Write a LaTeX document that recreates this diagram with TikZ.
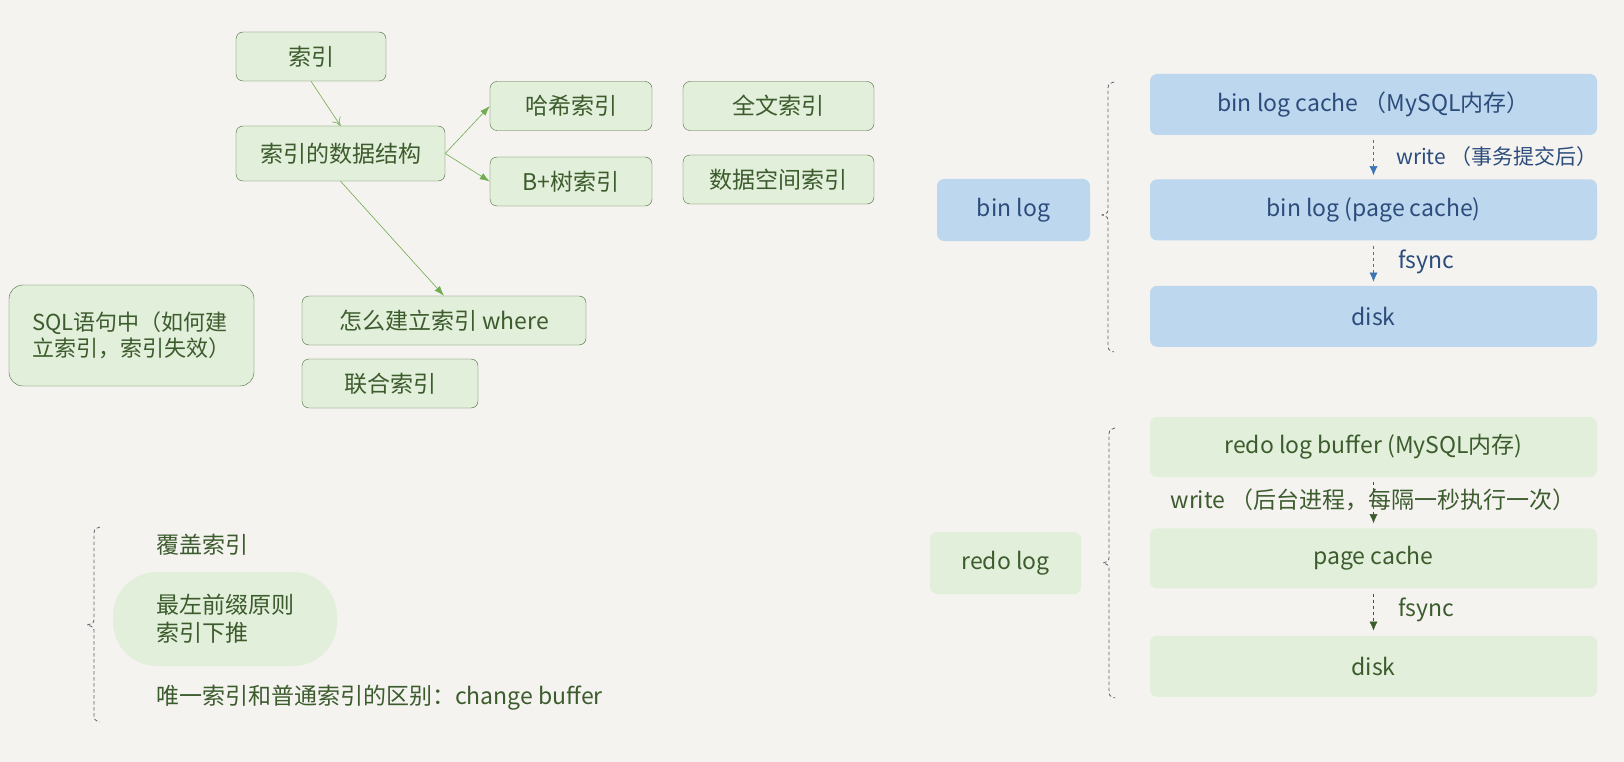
\documentclass[tikz,border=0pt]{standalone}
\usepackage{fontspec}
\setmainfont{Noto Sans CJK SC}
\usetikzlibrary{positioning,arrows.meta}
\definecolor{paper}{HTML}{F4F3EF}
\definecolor{gfill}{HTML}{E2EFDA}
\definecolor{gborder}{HTML}{4A6B3A}
\definecolor{gtext}{HTML}{3D5C2E}
\definecolor{gline}{HTML}{72AC50}
\definecolor{bfill}{HTML}{BDD7EE}
\definecolor{btext}{HTML}{2C4C7C}
\definecolor{bline}{HTML}{3A75B5}
\definecolor{bracecol}{HTML}{5E6470}
\newcommand\txtsize{\fontsize{23}{28}\selectfont}
\tikzset{block/.style={draw=gborder,fill=gfill,rounded corners=7pt,text=gtext,minimum height=49pt,inner sep=0pt},
         bluebox/.style={fill=bfill,rounded corners=7pt,text=btext,minimum width=447pt,minimum height=61pt},
         greenbox/.style={fill=gfill,rounded corners=7pt,text=gtext,minimum width=447pt,minimum height=61pt},
         label/.style={anchor=west,inner sep=0pt},
         line/.style={gline,semithick,-{Latex[length=10pt,width=7pt]}},
         brace/.style={bracecol,line width=0.8pt,dash pattern=on 3.5pt off 2.5pt}
}
\tikzstyle{barrow} = [bline,thin,dashed,-{Latex[length=9pt,width=8pt]}]
\tikzstyle{garrow} = [gtext,thin,dashed,-{Latex[length=9pt,width=8pt]}]

\begin{document}
\begin{tikzpicture}[x=1pt,y=-1pt,font=\txtsize]

\fill[paper] (0,0) rectangle (1624,762);
\useasboundingbox (0,0) rectangle (1624,762);

\node[block,minimum width=150pt] (idx) at (311,56.5) {索引};
\node[block,minimum width=209pt,minimum height=55pt] (struct) at (340.5,153.5) {索引的数据结构};
\node[block,minimum width=162pt] (hash) at (571,106) {哈希索引};
\node[block,minimum width=162pt] (btree) at (571,181.5) {B+树索引};
\node[block,minimum width=191pt] (fulltext) at (778.5,106) {全文索引};
\node[block,minimum width=191pt] (spatial) at (778.5,179.5) {数据空间索引};
\node[block,minimum width=245pt,minimum height=101pt,rounded corners=14pt,align=left,font=\fontsize{22}{26}\selectfont] (sql) at (131.5,335.5) {SQL语句中（如何建\\立索引，索引失效）};
\node[block,minimum width=284pt] (where) at (444,320.5) {怎么建立索引 where};
\node[block,minimum width=176pt] (joint) at (390,383.5) {联合索引};

\draw[gline,semithick,-{To[length=8pt,width=10pt]}] (idx.south) -- (struct.north);
\draw[line] (struct.east) -- (hash.west);
\draw[line] (struct.east) -- (btree.west);
\draw[line] (struct.south) -- (where.north);

\node[label,text=gtext] (cover) at (156,545) {覆盖索引};
\node[fill=gfill,rounded corners=44pt,minimum width=224pt,minimum height=94pt,text=gtext,align=left] (prefix) at (225,619) {最左前缀原则\\索引下推};
\node[label,text=gtext] (unique) at (156,698) {唯一索引和普通索引的区别：change buffer};
\draw[brace] (100,527) .. controls (94,529) .. (94,537) -- (94,617) .. controls (94,623) .. (87,625) .. controls (94,627) .. (94,633) -- (94,712) .. controls (94,720) .. (100,722);

\node[bluebox,minimum width=153pt,minimum height=62pt] (binlog) at (1013.5,210) {bin log};
\node[bluebox] (bcache) at (1373.5,104.5) {bin log cache （MySQL内存）};
\node[bluebox,below=44pt of bcache] (bpage) {bin log (page cache)};
\node[bluebox,below=45pt of bpage] (bdisk) {disk};
\draw[barrow] ([yshift=-5pt]bcache.south) -- ([yshift=4pt]bpage.north);
\draw[barrow] ([yshift=-5pt]bpage.south) -- ([yshift=4pt]bdisk.north);
\node[label,text=btext,font=\fontsize{21}{26}\selectfont] (bwrite) at (1396,157) {write （事务提交后）};
\node[label,text=btext] (bsync) at (1398,262) {fsync};
\draw[brace] (1114,82) .. controls (1108,84) .. (1108,92) -- (1108,207) .. controls (1108,213) .. (1102,215) .. controls (1108,217) .. (1108,223) -- (1108,342) .. controls (1108,350) .. (1114,352);

\node[greenbox,minimum width=151pt,minimum height=62pt] (redolog) at (1005.5,563) {redo log};
\node[greenbox,minimum height=60pt] (rbuffer) at (1373.5,447) {redo log buffer (MySQL内存)};
\node[greenbox,minimum height=60pt,below=51pt of rbuffer] (rpage) {page cache};
\node[greenbox,below=47pt of rpage] (rdisk) {disk};
\draw[garrow] ([yshift=-5pt]rbuffer.south) -- ([yshift=5pt]rpage.north);
\draw[garrow] ([yshift=-5pt]rpage.south) -- ([yshift=5pt]rdisk.north);
\node[text=gtext,inner sep=0pt] (rwrite) at (1373,500) {write （后台进程，每隔一秒执行一次）};
\node[label,text=gtext] (rsync) at (1398,610) {fsync};
\draw[brace] (1115,428) .. controls (1109,430) .. (1109,438) -- (1109,555) .. controls (1109,561) .. (1103,563) .. controls (1109,565) .. (1109,571) -- (1109,688) .. controls (1109,696) .. (1115,698);

\end{tikzpicture}
\end{document}
